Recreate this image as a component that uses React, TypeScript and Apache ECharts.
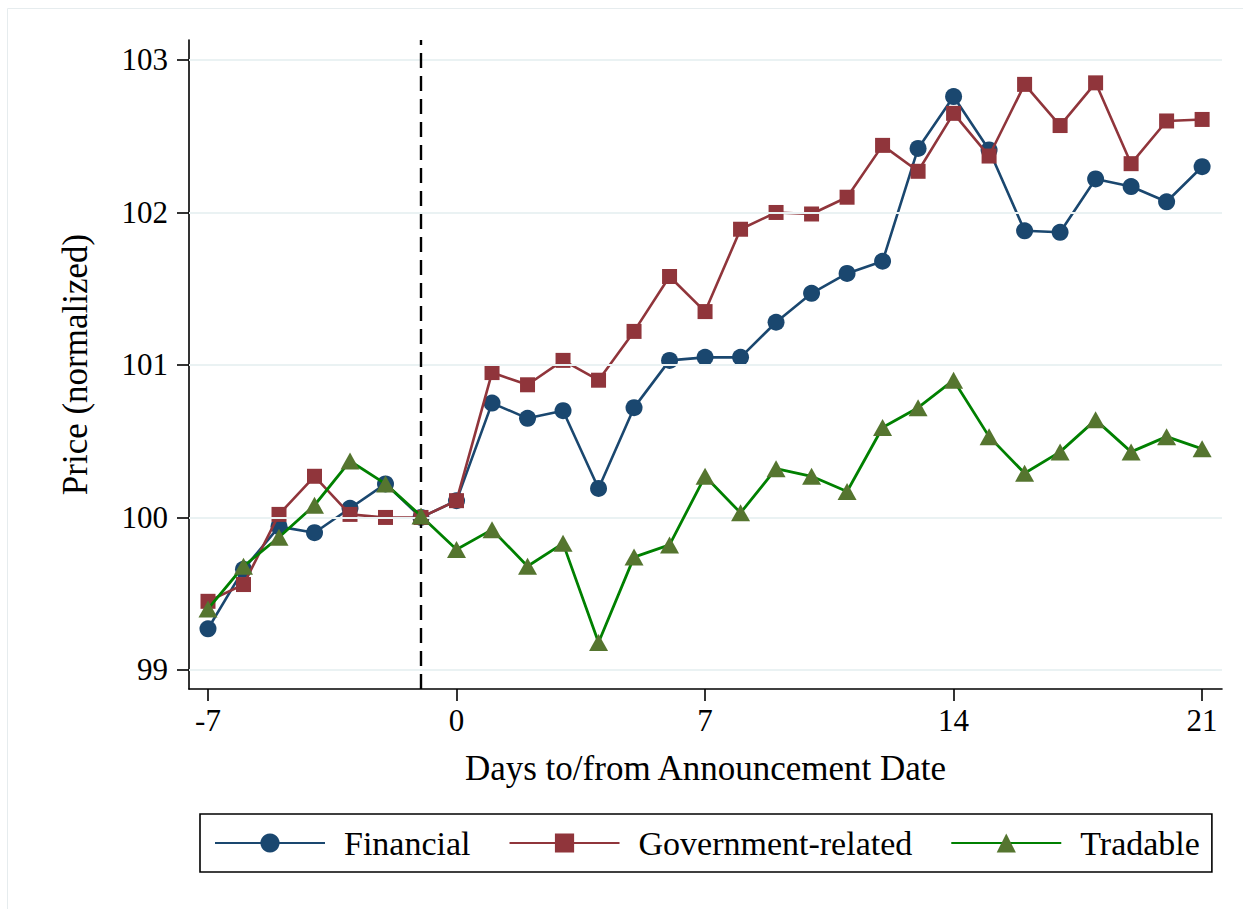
import React, { useEffect, useRef } from "react";
import * as echarts from "echarts";

const days = [-7, -6, -5, -4, -3, -2, -1, 0, 1, 2, 3, 4, 5, 6, 7, 8, 9, 10, 11, 12, 13, 14, 15, 16, 17, 18, 19, 20, 21];
const financial = [99.27, 99.66, 99.94, 99.9, 100.06, 100.22, 100.0, 100.11, 100.75, 100.65, 100.7, 100.19, 100.72, 101.03, 101.05, 101.05, 101.28, 101.47, 101.6, 101.68, 102.42, 102.76, 102.41, 101.88, 101.87, 102.22, 102.17, 102.07, 102.3];
const government = [99.45, 99.56, 100.02, 100.27, 100.02, 100.0, 100.0, 100.11, 100.95, 100.87, 101.03, 100.9, 101.22, 101.58, 101.35, 101.89, 102.0, 101.99, 102.1, 102.44, 102.27, 102.65, 102.37, 102.84, 102.57, 102.85, 102.32, 102.6, 102.61];
const tradable = [99.4, 99.68, 99.87, 100.08, 100.37, 100.22, 100.01, 99.79, 99.92, 99.68, 99.83, 99.18, 99.74, 99.82, 100.27, 100.03, 100.32, 100.27, 100.17, 100.59, 100.72, 100.9, 100.53, 100.29, 100.43, 100.64, 100.43, 100.53, 100.45];
const xTicks = [-7, 0, 7, 14, 21];
const yTicks = [99, 100, 101, 102, 103];
const announcementDay = -1;

export default function App() {
  const ref = useRef<HTMLDivElement>(null);
  useEffect(() => {
    const chart = echarts.init(ref.current as HTMLDivElement, null, { renderer: "svg" });
    const font = '"Liberation Serif", "Times New Roman", serif';
    const pair = (vals: number[]) => days.map((d, i) => [d, vals[i]]);
    chart.setOption({
      animation: false,
      backgroundColor: "#ffffff",
      graphic: [
        { type: "line", shape: { x1: 7.5, y1: 8.5, x2: 1243, y2: 8.5 }, style: { stroke: "#e6ecee", lineWidth: 1 } },
        { type: "line", shape: { x1: 7.5, y1: 8.5, x2: 7.5, y2: 909 }, style: { stroke: "#e6ecee", lineWidth: 1 } },
      ],
      grid: { left: 189, right: 22, top: 40, bottom: 220, containLabel: false },
      xAxis: {
        type: "value",
        min: -7.535,
        max: 21.56,
        name: "Days to/from Announcement Date",
        nameLocation: "middle",
        nameGap: 62,
        nameTextStyle: { fontFamily: font, fontSize: 35, color: "#000" },
        axisLine: { show: true, onZero: false, lineStyle: { color: "#000", width: 1.6 } },
        axisTick: { show: true, customValues: xTicks, length: 12, lineStyle: { color: "#000", width: 1.6 } },
        axisLabel: { customValues: xTicks, fontFamily: font, fontSize: 31, color: "#000", margin: 16 },
        splitLine: { show: false },
      },
      yAxis: {
        type: "value",
        min: 98.875,
        max: 103.131,
        name: "Price (normalized)",
        nameLocation: "middle",
        nameGap: 96,
        nameTextStyle: { fontFamily: font, fontSize: 35, color: "#000" },
        axisLine: { show: true, onZero: false, lineStyle: { color: "#000", width: 1.6 } },
        axisTick: { show: true, customValues: yTicks, length: 12, lineStyle: { color: "#000", width: 1.6 } },
        axisLabel: { customValues: yTicks, fontFamily: font, fontSize: 31, color: "#000", margin: 21 },
        splitLine: { show: false },
      },
      legend: {
        data: ["Financial", "Government-related", "Tradable"],
        left: 200,
        top: 814,
        orient: "horizontal",
        itemWidth: 110,
        itemHeight: 24,
        itemGap: 38,
        padding: [12, 12, 12, 14],
        borderColor: "#000",
        borderWidth: 1.6,
        borderRadius: 0,
        backgroundColor: "#fff",
        textStyle: { fontFamily: font, fontSize: 34, color: "#000", padding: [0, 0, 0, 14] },
      },
      series: [
        {
          name: "grid",
          type: "line",
          data: [],
          silent: true,
          z: 1,
          markLine: {
            silent: true,
            symbol: ["none", "none"],
            label: { show: false },
            lineStyle: { color: "#eaf2f3", width: 2, type: "solid" },
            data: yTicks.map((v) => ({ yAxis: v })),
          },
        },
        {
          name: "vline",
          type: "line",
          data: [],
          silent: true,
          z: 2,
          markLine: {
            silent: true,
            symbol: ["none", "none"],
            label: { show: false },
            lineStyle: { color: "#000", width: 2.4, type: [15, 8] },
            data: [{ xAxis: announcementDay }],
          },
        },
        {
          name: "Financial",
          type: "line",
          z: 3,
          data: pair(financial),
          symbol: "circle",
          symbolSize: 17,
          lineStyle: { color: "#1a476f", width: 2.6 },
          itemStyle: { color: "#1a476f" },
        },
        {
          name: "Government-related",
          type: "line",
          z: 4,
          data: pair(government),
          symbol: "rect",
          symbolSize: 15,
          lineStyle: { color: "#90353b", width: 2.6 },
          itemStyle: { color: "#90353b" },
        },
        {
          name: "Tradable",
          type: "line",
          z: 5,
          data: pair(tradable),
          symbol: "triangle",
          symbolSize: [19, 17],
          lineStyle: { color: "#008000", width: 2.8 },
          itemStyle: { color: "#55752f" },
        },
      ],
    });
    return () => chart.dispose();
  }, []);
  return (
    <div
      ref={ref}
      style={{ position: "fixed", left: 0, top: 0, width: 1244, height: 909, background: "#fff" }}
    />
  );
}
